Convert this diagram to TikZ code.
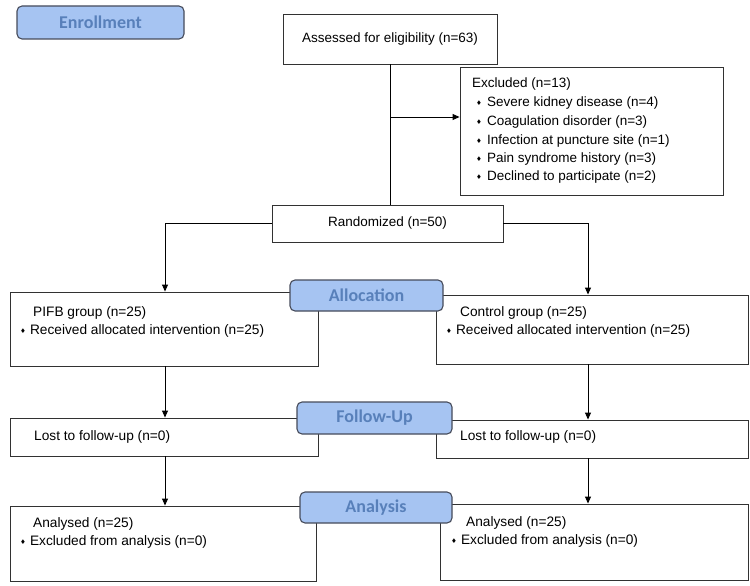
\documentclass[tikz,border=0pt]{standalone}
\usepackage{fontspec}
\setmainfont{Liberation Sans}
\newfontfamily\lblfont{Carlito}
\newfontfamily\symfont{DejaVu Sans}
\usetikzlibrary{arrows.meta,fit}
\definecolor{lblfill}{RGB}{166,196,242}
\definecolor{lbltext}{RGB}{88,128,186}
\definecolor{lblborder}{RGB}{70,75,90}
\definecolor{boxline}{RGB}{50,50,50}
\newcommand{\bul}{{\symfont\fontsize{6.5}{8}\selectfont\raisebox{1pt}{♦}}}
\begin{document}
\begin{tikzpicture}[x=1pt,y=-1pt,
  box/.style={draw=boxline, line width=0.9pt, fill=white, inner sep=0pt},
  lbl/.style={draw=lblborder, line width=1.1pt, fill=lblfill, rounded corners=5pt, inner sep=0pt},
  lbltxt/.style={text=lbltext, font=\lblfont\bfseries\fontsize{18}{21}\selectfont, inner sep=0pt},
  txt/.style={anchor=west, inner sep=0pt, font=\fontsize{13.5}{16}\selectfont},
  ltxt/.style={anchor=west, inner sep=0pt, font=\fontsize{13.7}{16}\selectfont},
  ctxt/.style={inner sep=0pt, font=\fontsize{13.5}{16}\selectfont},
  arr/.style={-{Triangle[length=7pt,width=6pt]}, line width=0.9pt},
  ln/.style={line width=0.9pt}]
\useasboundingbox (0,0) rectangle (750,586);

% main boxes
\node[box, fit={(283,14) (497,64)}] (assess) {};
\node[ctxt] (assessT) at (assess) {Assessed for eligibility (n=63)};

\node[box, fit={(460,67) (723,195)}] (excl) {};
\node[txt] (ex0) at (472,84) {Excluded (n=13)};
\node[txt] (ex1) at (476,103) {\bul\hspace{5pt}Severe kidney disease (n=4)};
\node[txt] (ex2) at (476,122) {\bul\hspace{5pt}Coagulation disorder (n=3)};
\node[txt] (ex3) at (476,141) {\bul\hspace{5pt}Infection at puncture site (n=1)};
\node[txt] (ex4) at (476,159) {\bul\hspace{5pt}Pain syndrome history (n=3)};
\node[txt] (ex5) at (476,177) {\bul\hspace{5pt}Declined to participate (n=2)};

\node[box, fit={(272,205) (503,242)}] (rand) {};
\node[ctxt] (randT) at (rand) {Randomized (n=50)};

\node[box, fit={(10,292) (318,366)}] (pifb) {};
\node[ltxt] (pifb1) at (33,313) {PIFB group (n=25)};
\node[ltxt] (pifb2) at (20,331) {\bul\hspace{4pt}Received allocated intervention (n=25)};

\node[box, fit={(436,295) (748,364)}] (ctrl) {};
\node[ltxt] (ctrl1) at (460,313) {Control group (n=25)};
\node[ltxt] (ctrl2) at (446,331) {\bul\hspace{4pt}Received allocated intervention (n=25)};

\node[box, fit={(10,418) (318,456)}] (lostL) {};
\node[ltxt] (lostL1) at (34,437) {Lost to follow-up (n=0)};

\node[box, fit={(436,420) (748,458)}] (lostR) {};
\node[ltxt] (lostR1) at (460,437) {Lost to follow-up (n=0)};

\node[box, fit={(10,506) (316,581)}] (anaL) {};
\node[ltxt] (anaL1) at (33,524) {Analysed (n=25)};
\node[ltxt] (anaL2) at (20,542) {\bul\hspace{4pt}Excluded from analysis (n=0)};

\node[box, fit={(440,504) (748,580)}] (anaR) {};
\node[ltxt] (anaR1) at (466,523) {Analysed (n=25)};
\node[ltxt] (anaR2) at (451,541) {\bul\hspace{4pt}Excluded from analysis (n=0)};

% connectors
\coordinate (cx) at (390,117);
\coordinate (lx) at (165,0);
\coordinate (rx) at (588,0);
\draw[ln] (assess.south -| cx) -- (rand.north -| cx);
\draw[arr] (cx) -- (cx -| excl.west);
\draw[arr] (rand.west) -| (pifb.north -| lx);
\draw[arr] (rand.east) -| (ctrl.north -| rx);
\draw[arr] (pifb.south -| lx) -- (lostL.north -| lx);
\draw[arr] (ctrl.south -| rx) -- (lostR.north -| rx);
\draw[arr] (lostL.south -| lx) -- (anaL.north -| lx);
\draw[arr] (lostR.south -| rx) -- (anaR.north -| rx);

% stage labels
\node[lbl, fit={(17,6) (184,39)}] (enroll) {};
\node[lbltxt] (enrollT) at (enroll) {Enrollment};
\node[lbl, fit={(290,280) (443,311)}] (alloc) {};
\node[lbltxt] (allocT) at (alloc) {Allocation};
\node[lbl, fit={(297,402) (452,434)}] (follow) {};
\node[lbltxt] (followT) at (follow) {Follow-Up};
\node[lbl, fit={(300,492) (452,523)}] (analysis) {};
\node[lbltxt] (analysisT) at (analysis) {Analysis};
\end{tikzpicture}
\end{document}
